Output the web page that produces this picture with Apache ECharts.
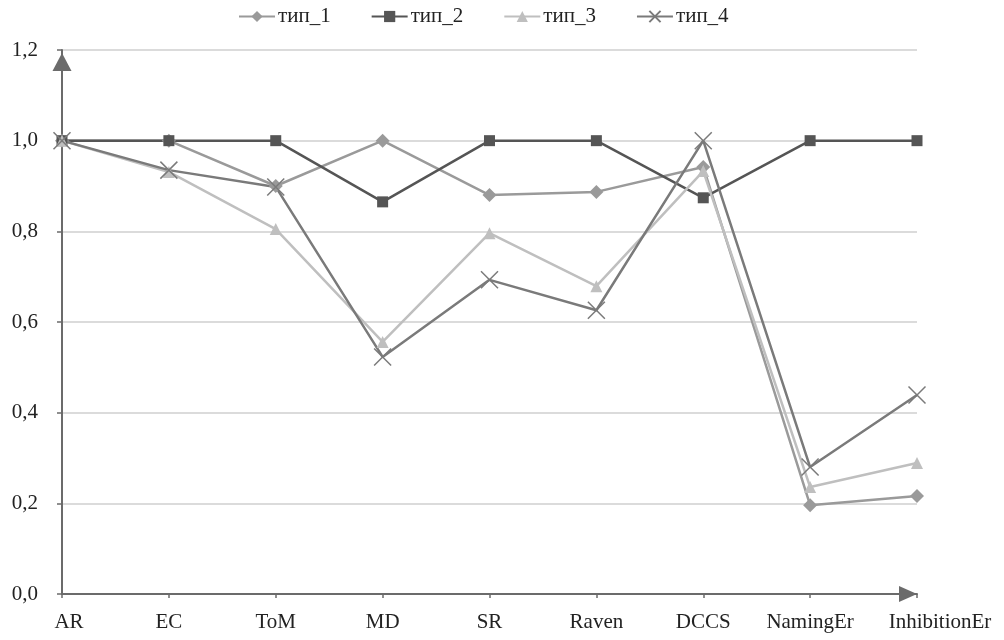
<!DOCTYPE html>
<html><head><meta charset="utf-8">
<script src="https://cdn.jsdelivr.net/npm/echarts@6/dist/echarts.min.js"></script>
<style>html,body{margin:0;padding:0;background:#fff}#c{width:1004px;height:640px}</style>
</head><body><div id="c"></div>
<script>
const categories = ['AR','EC','ToM','MD','SR','Raven','DCCS','NamingEr','InhibitionEr'];
const seriesNames = ['тип_1','тип_2','тип_3','тип_4'];
const type1 = [1.0, 1.0, 0.90, 1.0, 0.88, 0.887, 0.942, 0.196, 0.216];
const type2 = [1.0, 1.0, 1.0, 0.865, 1.0, 1.0, 0.874, 1.0, 1.0];
const type3 = [1.0, 0.931, 0.805, 0.556, 0.796, 0.679, 0.933, 0.236, 0.289];
const type4 = [1.0, 0.935, 0.898, 0.523, 0.693, 0.626, 1.0, 0.28, 0.439];
const yTicks = [0, 0.2, 0.4, 0.6, 0.8, 1.0, 1.2];

const FONT = 'Liberation Serif';
const FS = 21;
const crossPath = 'path://M0,0L10,10M10,0L0,10';
const colors = ['#9a9a9a', '#555555', '#bfbfbf', '#7a7a7a'];
const symbols = ['diamond', 'rect', 'triangle', crossPath];
const sizes = [14, 11, 12, 17];
const data = [type1, type2, type3, type4];

const series = data.map((d, i) => ({
  name: seriesNames[i],
  type: 'line',
  data: d,
  symbol: symbols[i],
  symbolSize: sizes[i],
  showAllSymbol: true,
  lineStyle: { color: colors[i], width: 2.5 },
  itemStyle: i === 3
    ? { color: 'rgba(0,0,0,0)', borderColor: colors[i], borderWidth: 1.5 }
    : { color: colors[i], borderWidth: 0 },
  emphasis: { disabled: true },
  animation: false
}));

const chart = echarts.init(document.getElementById('c'));
chart.setOption({
  animation: false,
  color: colors,
  textStyle: { fontFamily: FONT },
  legend: {
    top: 1,
    left: 233,
    itemWidth: 36,
    itemHeight: 14,
    itemGap: 40,
    textStyle: { fontFamily: FONT, fontSize: FS, color: '#222', padding: [0, 0, 0, -2] },
    data: seriesNames
  },
  grid: { left: 62, right: 87, top: 50, bottom: 46, containLabel: false },
  xAxis: {
    type: 'category',
    data: categories,
    boundaryGap: false,
    axisLine: { show: true, lineStyle: { color: '#6b6b6b', width: 2 }, symbol: ['none', 'triangle'], symbolSize: [16, 18], symbolOffset: [0, -9] },
    axisTick: { show: true, length: 4, lineStyle: { color: '#6b6b6b', width: 1.5 } },
    axisLabel: {
      fontFamily: FONT, fontSize: FS, color: '#222', margin: 18, interval: 0,
      formatter: (v, idx) => idx === 0 ? '{first|' + v + '}' : (idx === categories.length - 1 ? '{last|' + v + '}' : v),
      rich: {
        first: { fontFamily: FONT, fontSize: FS, color: '#222', padding: [0, 0, 0, 14] },
        last: { fontFamily: FONT, fontSize: FS, color: '#222', padding: [0, 0, 0, 46] }
      }
    },
    splitLine: { show: false }
  },
  yAxis: {
    type: 'value',
    min: 0, max: 1.2, interval: 0.2,
    axisLine: { show: true, lineStyle: { color: '#6b6b6b', width: 2 }, symbol: ['none', 'triangle'], symbolSize: [19, 18], symbolOffset: [0, -12] },
    axisTick: { show: true, length: 5, lineStyle: { color: '#6b6b6b', width: 1.5 } },
    axisLabel: { fontFamily: FONT, fontSize: FS, color: '#222', margin: 24,
      formatter: v => v.toFixed(1).replace('.', ',') },
    splitLine: { show: true, lineStyle: { color: '#cfcfcf', width: 1.5 } }
  },
  series: series
});
</script></body></html>
